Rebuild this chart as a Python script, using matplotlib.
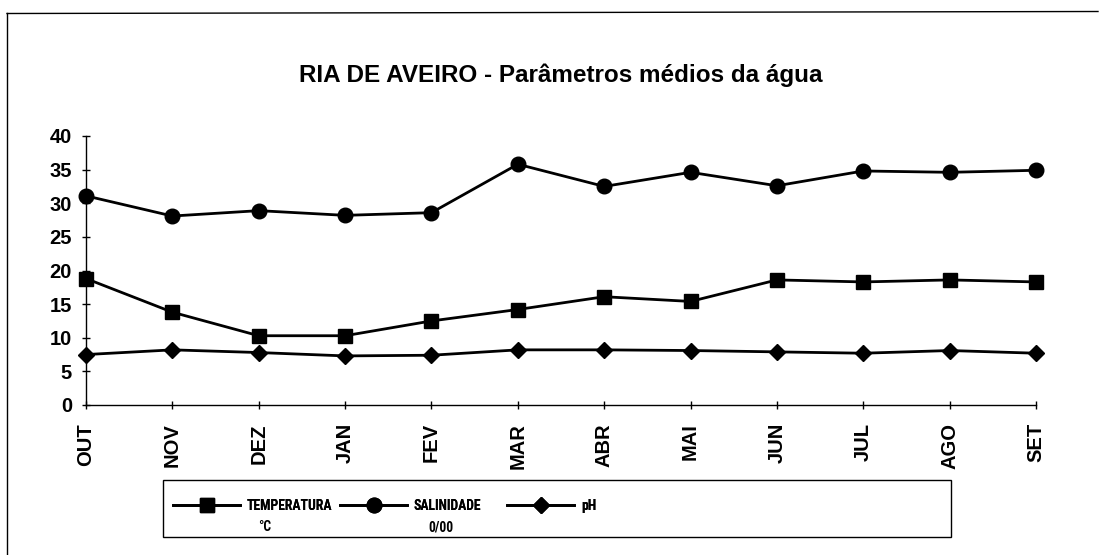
import matplotlib
matplotlib.use("Agg")
import matplotlib.pyplot as plt
from matplotlib.lines import Line2D
from matplotlib.patches import Rectangle
from matplotlib import font_manager

# Monthly means, Oct -> Sep
months = ["OUT", "NOV", "DEZ", "JAN", "FEV", "MAR", "ABR", "MAI", "JUN", "JUL", "AGO", "SET"]
temperatura = [18.8, 13.8, 10.3, 10.3, 12.5, 14.2, 16.1, 15.4, 18.6, 18.3, 18.6, 18.3]
salinidade = [31.1, 28.1, 28.9, 28.2, 28.6, 35.8, 32.5, 34.6, 32.6, 34.8, 34.6, 34.9]
ph = [7.5, 8.2, 7.8, 7.3, 7.4, 8.2, 8.2, 8.1, 7.9, 7.7, 8.1, 7.7]

series_names = ["TEMPERATURA", "SALINIDADE", "pH"]
series_units = ["°C", "0/00", ""]
y_ticks = [0, 5, 10, 15, 20, 25, 30, 35, 40]
title = "RIA DE AVEIRO - Parâmetros médios da água"


def condensed_font():
    """Pick a narrow sans face if one is installed."""
    fonts = font_manager.fontManager.ttflist
    for f in fonts:
        if f.name in ("Liberation Sans Narrow", "Roboto Condensed", "Open Sans Condensed"):
            return font_manager.FontProperties(family=f.name, weight="bold")
    for f in fonts:
        if f.name == "DejaVu Sans" and "condensed" in str(f.stretch):
            return font_manager.FontProperties(family="DejaVu Sans", weight="bold", stretch="condensed")
    return None


W, H = 1101, 555
fig = plt.figure(figsize=(W / 100, H / 100), dpi=100)
fig.patch.set_facecolor("white")

ax = fig.add_axes([86 / W, 1 - 405 / H, (1036 - 86) / W, (405 - 136) / H])
x = list(range(len(months)))

lw = 2.0
h_t, = ax.plot(x, temperatura, color="black", lw=lw, marker="s", ms=10.5, clip_on=False, zorder=3)
h_s, = ax.plot(x, salinidade, color="black", lw=lw, marker="o", ms=10.5, clip_on=False, zorder=3)
h_p, = ax.plot(x, ph, color="black", lw=lw, marker="D", ms=8, clip_on=False, zorder=3)

ax.set_xlim(0, len(months) - 1)
ax.set_ylim(0, 40)
ax.set_yticks(y_ticks)
ax.set_xticks(x)
ax.set_xticklabels(months, rotation=90, fontfamily="Liberation Sans", fontweight="bold", fontsize=14.5)
ax.set_yticklabels([str(v) for v in y_ticks], fontfamily="Liberation Sans", fontweight="bold", fontsize=14.5)
for side in ("top", "right"):
    ax.spines[side].set_visible(False)
for side in ("left", "bottom"):
    ax.spines[side].set_linewidth(1.0)
ax.tick_params(direction="inout", length=6, width=1)
ax.tick_params(axis="x", pad=10)
ax.tick_params(axis="y", pad=7)

fig.text(561 / W, 1 - 82 / H, title, ha="center", va="baseline",
         fontfamily="Liberation Sans", fontweight="bold", fontsize=17.5)

# Legend: framed box with three entries, units set under the names
cond = condensed_font()
if cond is not None:
    cond.set_size(9.8)
    leg_prop = cond
else:
    leg_prop = font_manager.FontProperties(family="Liberation Sans", weight="bold", size=8.8)
fs_px = leg_prop.get_size_in_points() * 100 / 72

fig.add_artist(Rectangle((163 / W, 1 - 537 / H), (951 - 163) / W, (537 - 480) / H,
                         transform=fig.transFigure, fill=False, edgecolor="black", lw=1.0))

handles = [h_t, h_s, h_p]
handle_x = [173, 340, 507]
unit_x = [258, 428, 0]
row_y = 1 - 506 / H
for h, name, unit, hx, ux in zip(handles, series_names, series_units, handle_x, unit_x):
    leg = fig.legend(handles=[h], labels=[name], loc="center left",
                     bbox_to_anchor=(hx / W, row_y), frameon=False,
                     borderpad=0, borderaxespad=0, handlelength=67 / fs_px,
                     handletextpad=7 / fs_px, prop=leg_prop)
    fig.add_artist(leg)
    if unit:
        fig.text(ux / W, 1 - 527 / H, unit, ha="left", va="center", fontproperties=leg_prop)

# Page frame: left and top edges
fig.add_artist(Line2D([7 / W, 7 / W], [0, 1 - 13 / H], transform=fig.transFigure, color="black", lw=1.0))
fig.add_artist(Line2D([7 / W, 1098 / W], [1 - 13.5 / H, 1 - 11.5 / H], transform=fig.transFigure, color="black", lw=1.0))

fig.savefig("out.png", dpi=100)
